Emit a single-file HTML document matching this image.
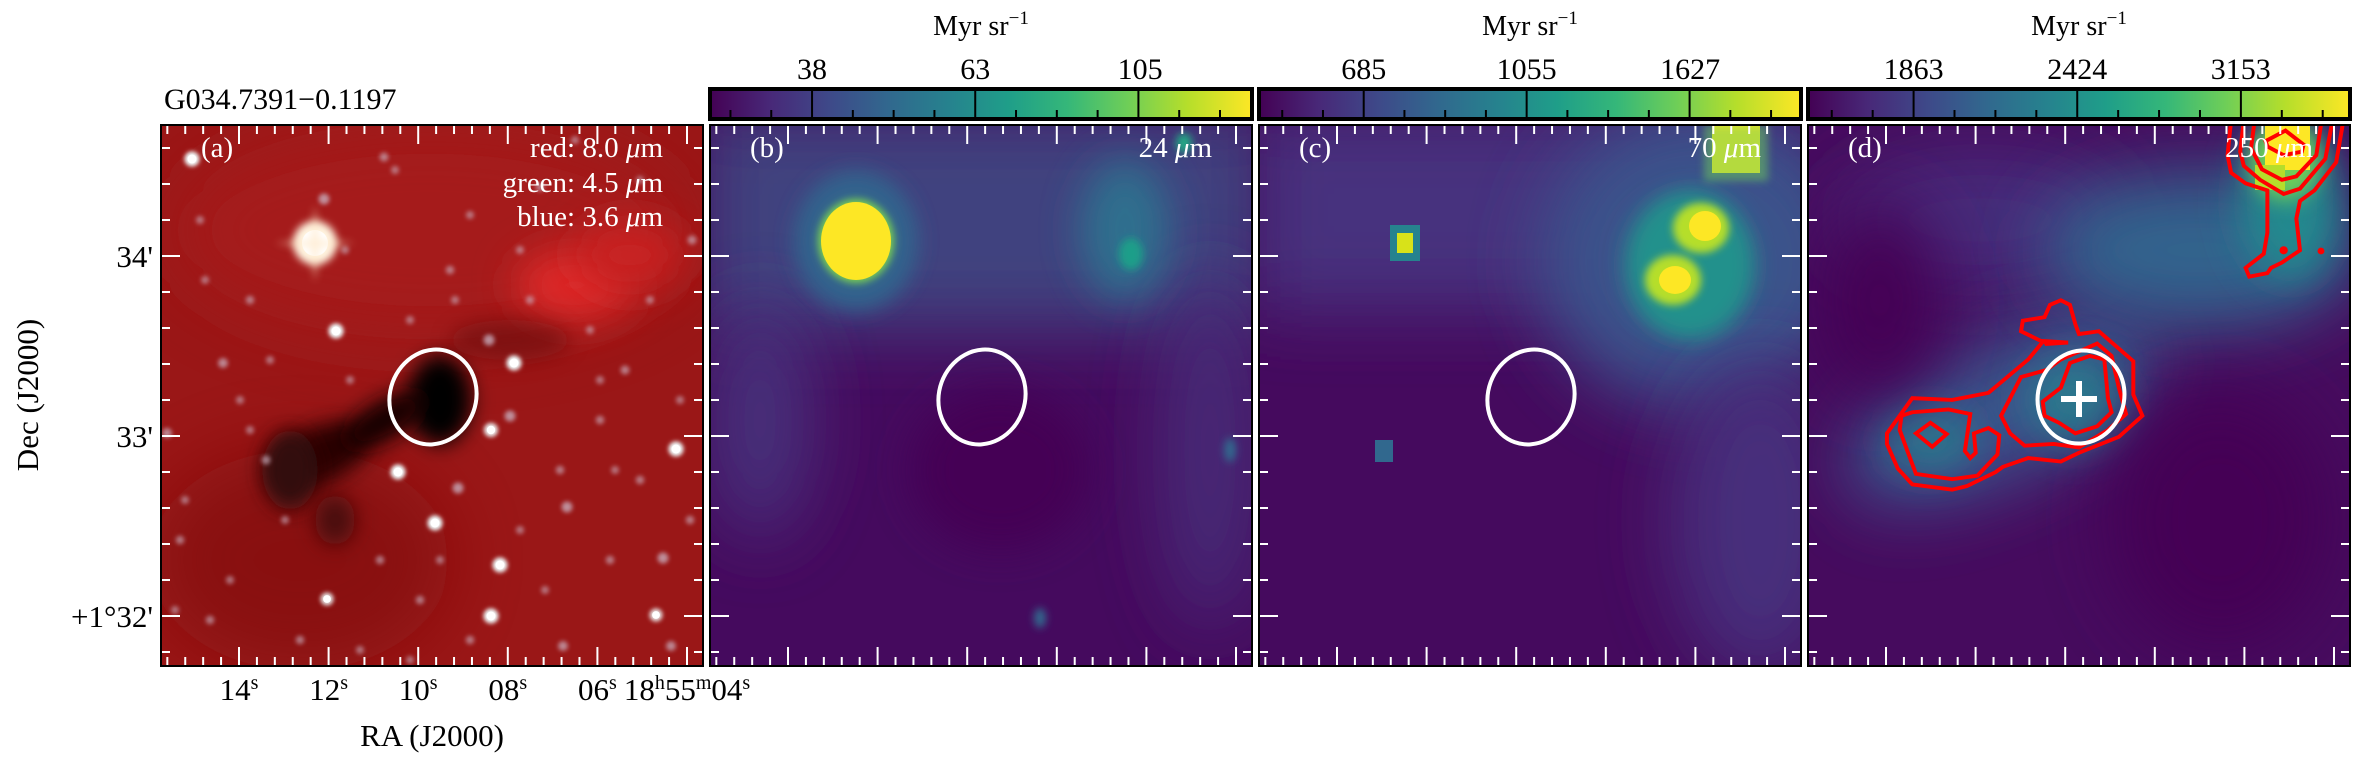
<!DOCTYPE html>
<html><head><meta charset="utf-8">
<style>
html,body{margin:0;padding:0;background:#fff;}
svg{display:block;font-family:"Liberation Serif",serif;}
</style></head>
<body>
<svg id="fig" width="2361" height="763" viewBox="0 0 2361 763" xmlns="http://www.w3.org/2000/svg">
<defs>
  <linearGradient id="viridis" x1="0" x2="1" y1="0" y2="0">
    <stop offset="0" stop-color="#440154"/><stop offset="0.11" stop-color="#482878"/>
    <stop offset="0.22" stop-color="#3e4989"/><stop offset="0.33" stop-color="#31688e"/>
    <stop offset="0.44" stop-color="#26828e"/><stop offset="0.55" stop-color="#1f9e89"/>
    <stop offset="0.66" stop-color="#35b779"/><stop offset="0.77" stop-color="#6ece58"/>
    <stop offset="0.88" stop-color="#b5de2b"/><stop offset="1" stop-color="#fde725"/>
  </linearGradient>
  <filter id="b2" x="-200%" y="-200%" width="500%" height="500%"><feGaussianBlur stdDeviation="2"/></filter>
  <filter id="b4" x="-200%" y="-200%" width="500%" height="500%"><feGaussianBlur stdDeviation="4"/></filter>
  <filter id="b10" x="-200%" y="-200%" width="500%" height="500%"><feGaussianBlur stdDeviation="10"/></filter>
  <filter id="b20" x="-200%" y="-200%" width="500%" height="500%"><feGaussianBlur stdDeviation="20"/></filter>
  <filter id="b35" x="-200%" y="-200%" width="500%" height="500%"><feGaussianBlur stdDeviation="35"/></filter>
  <clipPath id="cpa"><rect x="161" y="125" width="542" height="541"/></clipPath>
  <clipPath id="cpb"><rect x="710" y="125" width="542" height="541"/></clipPath>
  <clipPath id="cpc"><rect x="1259" y="125" width="542" height="541"/></clipPath>
  <clipPath id="cpd"><rect x="1808" y="125" width="542" height="541"/></clipPath>
</defs>

<!-- Panel a: RGB image -->
<g clip-path="url(#cpa)">
  <rect x="161" y="125" width="542" height="541" fill="#9a1717"/>
  <ellipse cx="430" cy="230" rx="260" ry="110" fill="#a81d1d" filter="url(#b35)" opacity="0.8"/>
  <ellipse cx="575" cy="285" rx="60" ry="35" fill="#e02a2a" filter="url(#b20)"/>
  <ellipse cx="630" cy="255" rx="55" ry="35" fill="#c92424" filter="url(#b20)"/>
  <ellipse cx="300" cy="560" rx="150" ry="110" fill="#821111" filter="url(#b35)" opacity="0.7"/>
  <ellipse cx="320" cy="455" rx="55" ry="28" fill="#2a0606" filter="url(#b10)" transform="rotate(-25 320 455)"/>
  <ellipse cx="290" cy="470" rx="28" ry="40" fill="#300707" filter="url(#b10)"/>
  <ellipse cx="440" cy="400" rx="32" ry="45" fill="#050202" filter="url(#b10)"/>
  <ellipse cx="385" cy="420" rx="45" ry="20" fill="#140404" filter="url(#b10)" transform="rotate(-30 385 420)"/>
  <ellipse cx="335" cy="520" rx="20" ry="25" fill="#4a0a0a" filter="url(#b10)"/>
  <ellipse cx="510" cy="340" rx="60" ry="20" fill="#6a0e0e" filter="url(#b10)" opacity="0.6"/>
  <g id="stars"></g>
  <circle cx="315" cy="243" r="22" fill="#fff4e0" filter="url(#b4)"/>
  <circle cx="315" cy="243" r="13" fill="#ffffff"/>
  <path d="M315 205 L319 240 L355 243 L319 247 L315 282 L311 247 L275 243 L311 240Z" fill="#ffe8c8" opacity="0.7" filter="url(#b4)"/>
</g>

<!-- Panel b: 24um -->
<g clip-path="url(#cpb)">
  <rect x="710" y="125" width="542" height="541" fill="#450a5e"/>
  <rect x="700" y="110" width="570" height="220" fill="#41437f" filter="url(#b35)"/>
  <ellipse cx="760" cy="420" rx="50" ry="120" fill="#46307b" filter="url(#b35)"/>
  <ellipse cx="1210" cy="450" rx="50" ry="180" fill="#472b77" filter="url(#b35)"/>
  <ellipse cx="1000" cy="470" rx="90" ry="80" fill="#440154" filter="url(#b20)"/>
  <ellipse cx="1125" cy="230" rx="45" ry="70" fill="#2d708e" filter="url(#b20)"/>
  <ellipse cx="1131" cy="254" rx="12" ry="16" fill="#1f9e89" filter="url(#b4)"/>
  <ellipse cx="1184" cy="143" rx="8" ry="10" fill="#22a884" filter="url(#b4)"/>
  <ellipse cx="856" cy="241" rx="62" ry="70" fill="#33638d" filter="url(#b10)"/>
  <ellipse cx="856" cy="241" rx="38" ry="42" fill="#7ad151" filter="url(#b4)"/>
  <ellipse cx="856" cy="241" rx="35" ry="39" fill="#fde725"/>
  <ellipse cx="1040" cy="618" rx="6" ry="10" fill="#31688e" filter="url(#b4)"/>
  <ellipse cx="1230" cy="450" rx="6" ry="12" fill="#31688e" filter="url(#b4)"/>
</g>

<!-- Panel c: 70um -->
<g clip-path="url(#cpc)">
  <rect x="1259" y="125" width="542" height="541" fill="#450a5e"/>
  <rect x="1250" y="110" width="570" height="200" fill="#46337e" filter="url(#b35)"/>
  <ellipse cx="1700" cy="260" rx="160" ry="150" fill="#3b528b" filter="url(#b35)"/>
  <ellipse cx="1760" cy="520" rx="90" ry="160" fill="#472d7b" filter="url(#b35)"/>
  <ellipse cx="1690" cy="265" rx="65" ry="75" fill="#21918c" filter="url(#b10)"/>
  <ellipse cx="1701" cy="228" rx="28" ry="25" fill="#b5de2b" filter="url(#b4)"/>
  <ellipse cx="1673" cy="280" rx="28" ry="25" fill="#b5de2b" filter="url(#b4)"/>
  <ellipse cx="1705" cy="226" rx="16" ry="15" fill="#fde725"/>
  <ellipse cx="1675" cy="280" rx="16" ry="14" fill="#fde725"/>
  <rect x="1712" y="125" width="48" height="48" fill="#fde725"/>
  <rect x="1704" y="125" width="64" height="56" fill="#6ece58" opacity="0.5" filter="url(#b4)"/>
  <rect x="1390" y="225" width="30" height="36" fill="#26828e"/>
  <rect x="1397" y="233" width="16" height="20" fill="#d8e219"/>
  <rect x="1375" y="440" width="18" height="22" fill="#31688e"/>
</g>

<!-- Panel d: 250um -->
<g clip-path="url(#cpd)">
  <rect x="1808" y="125" width="542" height="541" fill="#460b5e"/>
  <ellipse cx="1980" cy="220" rx="150" ry="70" fill="#472c7a" filter="url(#b35)"/>
  <ellipse cx="2000" cy="410" rx="170" ry="70" fill="#3a538b" filter="url(#b35)" transform="rotate(-25 2000 410)"/>
  <ellipse cx="2200" cy="250" rx="160" ry="80" fill="#33638d" filter="url(#b35)"/>
  <ellipse cx="2075" cy="400" rx="50" ry="45" fill="#2a788e" filter="url(#b20)"/>
  <ellipse cx="1930" cy="440" rx="45" ry="30" fill="#2a788e" filter="url(#b20)"/>
  <ellipse cx="2290" cy="200" rx="50" ry="80" fill="#23898e" filter="url(#b20)"/>
  <ellipse cx="2285" cy="160" rx="35" ry="40" fill="#6ece58" filter="url(#b10)"/>
  <rect x="2265" y="125" width="45" height="45" fill="#fde725"/>
  <rect x="2255" y="165" width="30" height="25" fill="#b5de2b"/>
  <ellipse cx="2220" cy="520" rx="110" ry="130" fill="#440154" filter="url(#b35)"/>
  <ellipse cx="1880" cy="300" rx="60" ry="100" fill="#440154" filter="url(#b35)"/>
  <g transform="translate(1800,120) scale(0.3623,0.3521)" fill="none" stroke="#ff0000" stroke-width="11" stroke-linejoin="miter">
    <path d="M240,890 L310,790 L420,795 L520,775 L630,680 L670,630 L610,600 L615,570 L675,560 L690,525 L720,512 L745,525 L760,580 L770,608 L825,600 L920,685 L920,780 L945,840 L880,900 L770,945 L720,970 L630,960 L560,985 L540,1000 L460,1040 L420,1050 L310,1035 L270,990 L240,920Z"/>
    <path d="M280,840 L310,830 L410,822 L470,835 L455,940 L470,960 L485,945 L480,890 L520,875 L550,895 L545,950 L490,1010 L420,1020 L320,1005 L300,950 L275,880Z"/>
    <path d="M555,840 L610,730 L680,710 L720,680 L820,635 L860,670 L880,760 L900,835 L850,880 L770,930 L700,920 L620,925 L580,890Z"/>
    <path d="M675,628 L740,632 L680,636Z"/>
    <path d="M670,800 L720,760 L745,690 L800,670 L840,680 L850,790 L860,830 L820,870 L760,890 L715,860 L675,840Z"/>
    <path d="M320,890 L360,860 L405,892 L365,928Z"/>
    <path d="M1180,100 L1190,0 L1500,0 L1480,120 L1420,200 L1380,230 L1370,280 L1380,370 L1330,405 L1300,420 L1290,435 L1240,445 L1230,420 L1280,380 L1290,320 L1290,200 L1230,180 L1190,150Z"/>
    <path d="M1215,90 L1225,0 L1470,0 L1450,110 L1380,195 L1335,210 L1270,170 L1225,130Z"/>
    <path d="M1245,80 L1255,0 L1440,0 L1425,100 L1370,160 L1330,170 L1275,140Z"/>
    <path d="M1285,60 L1340,30 L1390,70 L1385,90 L1335,100 L1290,75Z"/>
    <circle cx="1335" cy="370" r="6" fill="#ff0000"/>
    <circle cx="1438" cy="372" r="4" fill="#ff0000"/>
  </g>
</g>

<!-- Ellipses & marker -->
<ellipse cx="433" cy="397" rx="43" ry="48" fill="none" stroke="#fff" stroke-width="4" transform="rotate(20 433 397)"/>
<ellipse cx="982" cy="397" rx="43" ry="48" fill="none" stroke="#fff" stroke-width="4" transform="rotate(20 982 397)"/>
<ellipse cx="1531" cy="397" rx="43" ry="48" fill="none" stroke="#fff" stroke-width="4" transform="rotate(20 1531 397)"/>
<ellipse cx="2081" cy="397" rx="43" ry="47" fill="none" stroke="#fff" stroke-width="4" transform="rotate(20 2081 397)"/>
<g stroke="#fff" stroke-width="6">
  <line x1="2061" y1="399" x2="2097" y2="399"/><line x1="2079" y1="381" x2="2079" y2="417"/>
</g>

<g id="ticks"></g>

<!-- Panel borders -->
<g fill="none" stroke="#000" stroke-width="2">
  <rect x="161" y="125" width="542" height="541"/>
  <rect x="710" y="125" width="542" height="541"/>
  <rect x="1259" y="125" width="542" height="541"/>
  <rect x="1808" y="125" width="542" height="541"/>
</g>

<!-- Panel labels -->
<g fill="#fff" font-size="29">
  <text x="201" y="157">(a)</text>
  <text x="663" y="157" text-anchor="end">red: 8.0 <tspan font-style="italic">μ</tspan>m</text>
  <text x="663" y="192" text-anchor="end">green: 4.5 <tspan font-style="italic">μ</tspan>m</text>
  <text x="663" y="226" text-anchor="end">blue: 3.6 <tspan font-style="italic">μ</tspan>m</text>
  <text x="750" y="157">(b)</text>
  <text x="1212" y="157" text-anchor="end">24 <tspan font-style="italic">μ</tspan>m</text>
  <text x="1299" y="157">(c)</text>
  <text x="1761" y="157" text-anchor="end">70 <tspan font-style="italic">μ</tspan>m</text>
  <text x="1848" y="157">(d)</text>
  <text x="2313" y="157" text-anchor="end">250 <tspan font-style="italic">μ</tspan>m</text>
</g>

<text x="164" y="109" font-size="30" fill="#000">G034.7391−0.1197</text>

<g id="colorbars"></g>

<g id="axislabels" font-size="31" fill="#000">
  <text x="432" y="746" text-anchor="middle">RA (J2000)</text>
  <text transform="translate(38,395) rotate(-90)" text-anchor="middle">Dec (J2000)</text>
</g>

<script>
// Colorbar data
const cbTicksB = [38, 63, 105];
const cbTicksC = [685, 1055, 1627];
const cbTicksD = [1863, 2424, 3153];
const cbRangeB = [27.7, 148.5];
const cbRangeC = [519, 2183];
const cbRangeD = [1572, 3759];
// Axis tick labels
const raLabels = ["14", "12", "10", "08", "06", "18h55m04"];
const decLabels = ["34'", "33'", "+1°32'"];
// Star catalogue for panel a (x, y, brightness)
const starX = [192,336,514,491,398,676,435,500,327,491,656,567,510,458,223,489,663,671,563,324,167,384,540,266,625,692,250,450,600,380,210,640,300,530,470,690,180,560,420,610,200,240,270,350,410,470,520,590,650,185,230,360,440,545,615,680,205,285,395,575,640,175,345,455,520,600,250,410];
const starY = [159,331,363,430,472,449,523,565,599,616,615,507,416,488,363,340,558,646,646,199,433,157,187,460,370,240,300,270,420,560,620,480,640,300,640,520,540,470,600,560,220,400,360,380,320,215,250,330,300,500,580,650,560,590,470,400,280,520,170,140,180,610,250,300,530,380,430,660];
const starB = [1,1,1,0.9,1,1,1,1,0.8,1,0.8,0.6,0.6,0.6,0.5,0.6,0.6,0.5,0.5,0.6,0.5,0.4,0.4,0.4,0.4,0.4,0.35,0.35,0.35,0.35,0.35,0.35,0.35,0.35,0.35,0.35,0.35,0.35,0.35,0.35,0.3,0.3,0.3,0.3,0.3,0.3,0.3,0.3,0.3,0.3,0.3,0.3,0.3,0.3,0.3,0.3,0.3,0.3,0.3,0.3,0.3,0.3,0.3,0.3,0.3,0.3,0.3,0.3];

const NS = "http://www.w3.org/2000/svg";
function mk(tag, attrs, parent) {
  const e = document.createElementNS(NS, tag);
  for (const k in attrs) e.setAttribute(k, attrs[k]);
  parent.appendChild(e);
  return e;
}

// Stars
const sg = document.getElementById('stars');
for (let i = 0; i < starX.length; i++) {
  const r = 2.5 + starB[i] * 5;
  const c = mk('circle', {cx: starX[i], cy: starY[i], r: r, fill: starB[i] > 0.7 ? '#f2ffff' : '#c9b0c0', opacity: 0.45 + starB[i] * 0.55, filter: 'url(#b2)'}, sg);
  
  
  if (starB[i] > 0.7) {
    const c2 = mk('circle', {cx: starX[i], cy: starY[i], r: r * 0.6, fill: '#ffffff'}, sg);
    
    
  }
}

// Ticks
const panelsX = [161, 710, 1259, 1808];
const PT = 125, PW = 542, PH = 541;
const tg = document.getElementById('ticks');
const xMajor0 = 78, xStep = 89.6;
const yMajor0 = 131, yStep = 180;
panelsX.forEach(function (px) {
  for (let k = -4; k < 31; k++) {
    const x = px + xMajor0 + k * xStep / 5;
    if (x <= px + 2 || x >= px + PW - 2) continue;
    const major = (k % 5 === 0);
    const L = major ? 19 : 9;
    const t1 = mk('line', {x1: x, x2: x, y1: PT, y2: PT + L, stroke: '#fff', 'stroke-width': 2}, tg);
    
    
    const t2 = mk('line', {x1: x, x2: x, y1: PT + PH, y2: PT + PH - L, stroke: '#fff', 'stroke-width': 2}, tg);
    
    
  }
  for (let k = -3; k < 12; k++) {
    const y = PT + yMajor0 + k * yStep / 5;
    if (y <= PT + 2 || y >= PT + PH - 2) continue;
    const major = (k % 5 === 0);
    const L = major ? 19 : 9;
    const t1 = mk('line', {x1: px, x2: px + L, y1: y, y2: y, stroke: '#fff', 'stroke-width': 2}, tg);
    
    
    const t2 = mk('line', {x1: px + PW, x2: px + PW - L, y1: y, y2: y, stroke: '#fff', 'stroke-width': 2}, tg);
    
    
  }
});

// Tick labels (panel a only)
const al = document.getElementById('axislabels');
raLabels.forEach(function (lab, i) {
  const x = 161 + xMajor0 + i * xStep;
  const t = mk('text', {x: x, y: 700, 'text-anchor': 'middle'}, al);
  
  
  const parts = lab.match(/(\d+|[a-z])/g);
  parts.forEach(function (p) {
    const ts = document.createElementNS(NS, 'tspan');
    if (/[a-z]/.test(p)) { ts.setAttribute('font-size', '20'); ts.setAttribute('dy', '-11'); }
    else if (p !== parts[0]) { ts.setAttribute('dy', '11'); }
    ts.textContent = p;
    t.appendChild(ts);
  });
  const ss = document.createElementNS(NS, 'tspan');
  ss.setAttribute('font-size', '20'); ss.setAttribute('dy', '-11');
  ss.textContent = 's';
  t.appendChild(ss);
});
decLabels.forEach(function (lab, i) {
  const y = PT + yMajor0 + i * yStep;
  const t = mk('text', {x: 153, y: y + 11, 'text-anchor': 'end'}, al);
  
  
  t.textContent = lab;
});

// Colorbars
const cg = document.getElementById('colorbars');
const cbs = [[710, cbTicksB, cbRangeB], [1259, cbTicksC, cbRangeC], [1808, cbTicksD, cbRangeD]];
const CBY = 89, CBH = 30;
cbs.forEach(function (cb, j) {
  const x0 = cb[0], ticks = cb[1], rng = cb[2];
  const sx = function (v) { return x0 + (Math.log(v) - Math.log(rng[0])) / (Math.log(rng[1]) - Math.log(rng[0])) * PW; };
  const bar = mk('rect', {x: x0, y: CBY, width: PW, height: CBH, fill: 'url(#viridis)', stroke: '#000', 'stroke-width': 4}, cg);
  
  
  const step = (sx(ticks[1]) - sx(ticks[0])) / 4;
  for (let k = -4; k < 16; k++) {
    const x = sx(ticks[0]) + k * step;
    if (x <= x0 + 3 || x >= x0 + PW - 3) continue;
    const major = (k % 4 === 0);
    const ln = mk('line', {x1: x, x2: x, y1: major ? CBY : CBY + CBH - 9, y2: CBY + CBH, stroke: '#000', 'stroke-width': 2}, cg);
    
    
  }
  ticks.forEach(function (v) {
    const t = mk('text', {x: sx(v), y: 79, 'text-anchor': 'middle', 'font-size': 30}, cg);
    
    
    t.textContent = v;
  });
  const u = mk('text', {x: x0 + PW / 2, y: 35, 'text-anchor': 'middle', 'font-size': 28}, cg);
  
  
  u.textContent = 'Myr sr';
  const sup = document.createElementNS(NS, 'tspan');
  sup.setAttribute('font-size', '19'); sup.setAttribute('dy', '-11');
  sup.textContent = '−1';
  u.appendChild(sup);
});
</script>
</svg>
</body></html>
